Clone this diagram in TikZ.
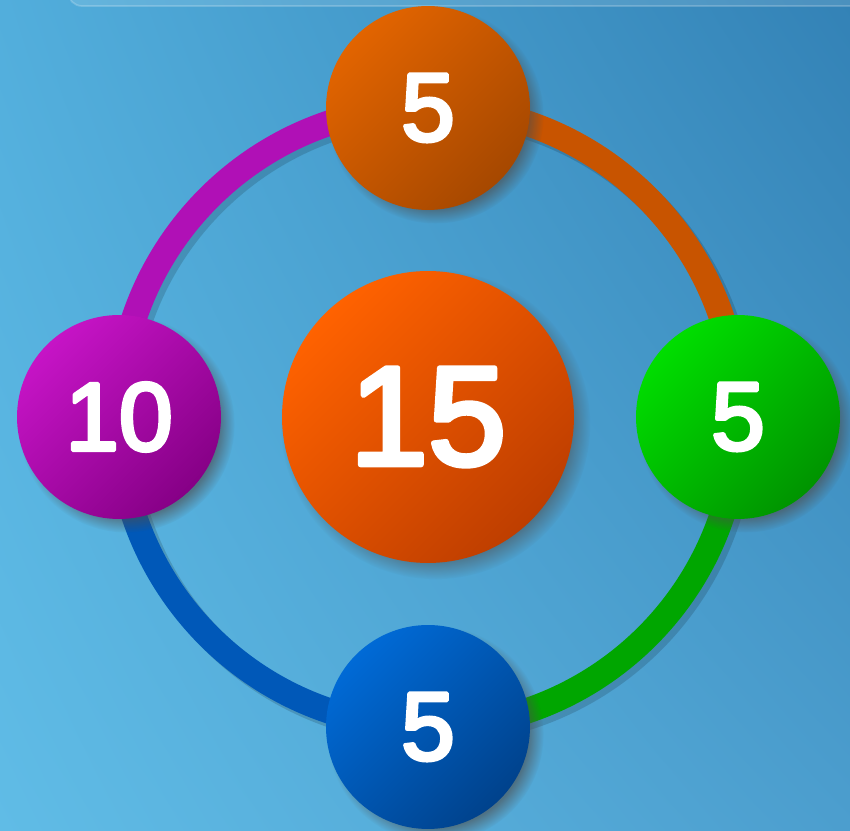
\documentclass[tikz,border=0pt]{standalone}
\usepackage{fontspec}
\setmainfont{Liberation Sans}
\usetikzlibrary{shadows, shadings}

\definecolor{bgtl}{HTML}{52AEDC}
\definecolor{bgtr}{HTML}{3382B6}
\definecolor{bgbl}{HTML}{60BCE6}
\definecolor{bgbr}{HTML}{4C9ECE}
\definecolor{orangelt}{HTML}{E26400}
\definecolor{orangedk}{HTML}{A64800}
\definecolor{redlt}{HTML}{FF6200}
\definecolor{reddk}{HTML}{BE3E00}
\definecolor{purplelt}{HTML}{C614C6}
\definecolor{purpledk}{HTML}{860086}
\definecolor{greenlt}{HTML}{00DE00}
\definecolor{greendk}{HTML}{009400}
\definecolor{bluelt}{HTML}{006AD6}
\definecolor{bluedk}{HTML}{00428C}
\definecolor{ringorange}{HTML}{C85400}
\definecolor{ringpurple}{HTML}{B010B6}
\definecolor{ringgreen}{HTML}{00A600}
\definecolor{ringblue}{HTML}{0058B8}

% white digits with a round white outline, for a heavier rounded look
\newcommand{\rounddigits}[2]{\fontsize{#1}{#1}\selectfont
  \special{pdf:literal direct 2 Tr 1 j #2 w 1 1 1 RG}}

\tikzset{
  bubble/.style={circle, minimum size=4.08cm, inner sep=0pt, text=white,
    font=\rounddigits{55}{2.1},
    circular drop shadow={shadow xshift=4pt, shadow yshift=-4pt,
      shadow scale=1.06, opacity=0.6, fill=black!70}},
  tint/.style 2 args={top color=#1, bottom color=#2, shading angle=45},
  ring/.style={line width=14.5pt},
}

\begin{document}
\begin{tikzpicture}[x=0.02cm, y=0.02cm]

% Background
\useasboundingbox (-428,-414) rectangle (422,417);
\begin{scope}
\clip (-428,-414) rectangle (422,417);
\shade[upper left=bgtl, upper right=bgtr, lower left=bgbl, lower right=bgbr]
  (-428,-414) rectangle (422,417);
\fill[white, opacity=0.12, rounded corners=8pt] (-360,411) rectangle (440,440);
\draw[white, opacity=0.2, line width=1pt, rounded corners=8pt] (-360,440) |- (440,411);
\end{scope}

% Ring
\draw[black, opacity=0.15, ring] (5,-5) circle[radius=310];
\foreach \a/\col in {0/ringorange, 90/ringpurple, 180/ringblue, 270/ringgreen}
  \draw[\col, ring] (\a:310) arc[start angle=\a, end angle=\a+90, radius=310];

% Nodes
\node (total) [bubble, minimum size=5.84cm, font=\rounddigits{80}{3.0},
  tint={redlt}{reddk}] at (0,0) {15};
\node (north) [bubble, tint={orangelt}{orangedk}] at (90:309) {5};
\node (west) [bubble, tint={purplelt}{purpledk}] at (180:309) {10};
\node (east) [bubble, tint={greenlt}{greendk}] at (0:310) {5};
\node (south) [bubble, tint={bluelt}{bluedk}] at (270:310) {5};

\end{tikzpicture}
\end{document}
